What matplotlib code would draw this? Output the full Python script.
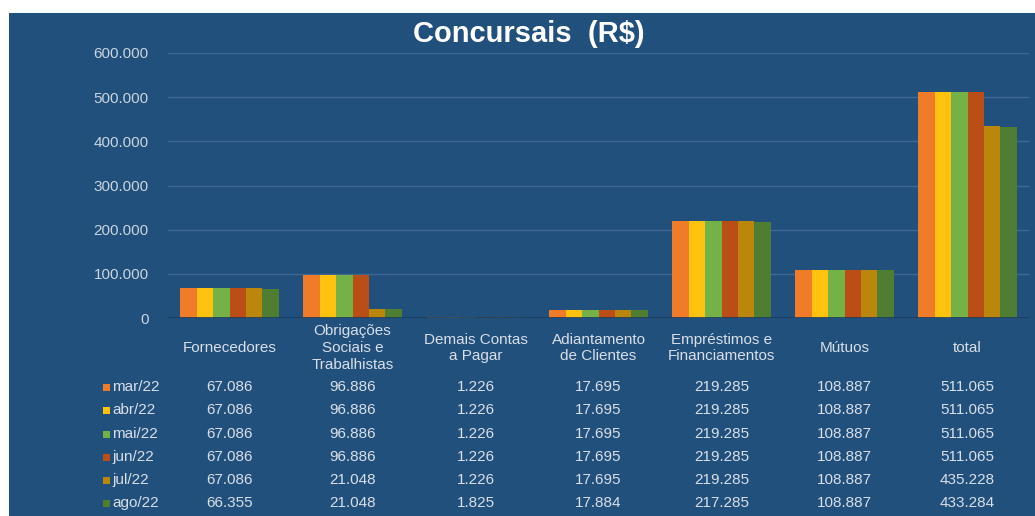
import numpy as np
import matplotlib as mpl
mpl.use("Agg")
import matplotlib.pyplot as plt
from matplotlib.patches import Rectangle
from matplotlib.transforms import blended_transform_factory

# data (R$ mil)
categories = ["Fornecedores", "Obrigações\nSociais e\nTrabalhistas",
              "Demais Contas\na Pagar", "Adiantamento\nde Clientes",
              "Empréstimos e\nFinanciamentos", "Mútuos", "total"]
months = ["mar/22", "abr/22", "mai/22", "jun/22", "jul/22", "ago/22"]
mar22 = [67086, 96886, 1226, 17695, 219285, 108887, 511065]
abr22 = [67086, 96886, 1226, 17695, 219285, 108887, 511065]
mai22 = [67086, 96886, 1226, 17695, 219285, 108887, 511065]
jun22 = [67086, 96886, 1226, 17695, 219285, 108887, 511065]
jul22 = [67086, 21048, 1226, 17695, 219285, 108887, 435228]
ago22 = [66355, 21048, 1825, 17884, 217285, 108887, 433284]
series = [mar22, abr22, mai22, jun22, jul22, ago22]

colors = ["#F07C2A", "#FFC20E", "#74B248", "#BA4E16", "#BA860C", "#4F7E32"]
BG = "#22507C"
GRID = "#3E6893"
TXT = "#D8DFE8"

plt.rcParams["font.family"] = ["Liberation Sans", "DejaVu Sans"]

W, H = 1035, 516
fig = plt.figure(figsize=(W / 100, H / 100), dpi=100, facecolor="white")
fig.patches.append(Rectangle((9 / W, 0), 1, (H - 13) / H, transform=fig.transFigure,
                             facecolor=BG, edgecolor="none", zorder=-10))

ax = fig.add_axes([168 / W, 1 - 318 / H, (1029 - 168) / W, (318 - 53) / H])
ax.set_facecolor(BG)
ax.patch.set_alpha(0)
for s in ax.spines.values():
    s.set_visible(False)

x = np.arange(len(categories))
n = len(series)
group = 0.8
bw = group / n
for i, (vals, c) in enumerate(zip(series, colors)):
    ax.bar(x - group / 2 + bw * (i + 0.5), vals, width=bw, color=c,
           edgecolor="none", zorder=3)

ax.set_xlim(-0.5, len(categories) - 0.5)
ax.set_ylim(0, 600000)
ax.set_yticks(np.arange(0, 600001, 100000))
ax.set_yticklabels(["0" if v == 0 else f"{v:,}".replace(",", ".")
                    for v in range(0, 600001, 100000)])
ax.tick_params(axis="y", length=0, pad=14, labelsize=11, labelcolor="#C9D4E0")
ax.set_xticks([])
ax.grid(axis="y", color=GRID, linewidth=1, zorder=0)
ax.axhline(0, color="#1A3A5C", linewidth=1.2, zorder=4)

fig.text(529 / W, 1 - 34 / H, "Concursais  (R$)", ha="center", va="center",
         color="white", fontsize=21, fontweight="bold")

# data table under the chart
tr = blended_transform_factory(ax.transData, fig.transFigure)
for j, cat in enumerate(categories):
    ax.text(j, 1 - 348 / H, cat, transform=tr, ha="center", va="center",
            color=TXT, fontsize=11, linespacing=1.25)

row_y = [387, 410, 434, 457, 480, 503]
for i, (m, vals, c) in enumerate(zip(months, series, colors)):
    yf = 1 - row_y[i] / H
    fig.patches.append(Rectangle((103 / W, yf - 3.5 / H), 7 / W, 7 / H,
                                 transform=fig.transFigure, facecolor=c,
                                 edgecolor="none"))
    fig.text(112 / W, yf, m, ha="left", va="center", color=TXT, fontsize=11)
    for j, v in enumerate(vals):
        ax.text(j, yf, f"{v:,}".replace(",", "."), transform=tr, ha="center",
                va="center", color=TXT, fontsize=11)

fig.savefig("out.png", dpi=100, facecolor="white")
